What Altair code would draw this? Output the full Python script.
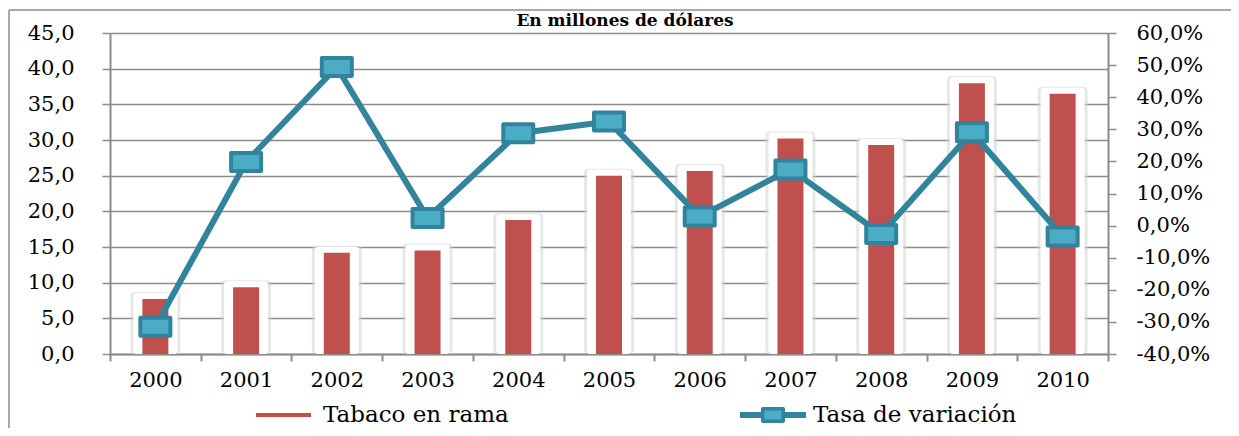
import altair as alt
import pandas as pd

years = ["2000", "2001", "2002", "2003", "2004", "2005", "2006", "2007", "2008", "2009", "2010"]
tabaco = [7.7, 9.35, 14.2, 14.5, 18.8, 25.0, 25.65, 30.2, 29.3, 37.95, 36.5]
tasa = [-0.315, 0.198, 0.494, 0.024, 0.288, 0.324, 0.028, 0.175, -0.026, 0.291, -0.034]
series = ["Tabaco en rama", "Tasa de variación"]
title_text = "En millones de dólares"
left_ticks = [0, 5, 10, 15, 20, 25, 30, 35, 40, 45]
right_ticks = [-0.4, -0.3, -0.2, -0.1, 0.0, 0.1, 0.2, 0.3, 0.4, 0.5, 0.6]

df = pd.DataFrame({"year": years, "tabaco": tabaco, "tasa": tasa})

FONT = "DejaVu Serif"
GRID = "#8c8c8c"
RED = "#C0504D"
TEAL = "#31849B"
LIGHT = "#4BACC6"
W, H = 998, 321

x_enc = alt.X(
    "year:N",
    sort=years,
    scale=alt.Scale(paddingInner=0, paddingOuter=0),
    axis=alt.Axis(
        title=None, grid=False, tickBand="extent", labelAngle=0,
        labelFont=FONT, labelFontSize=21, labelColor="black", labelPadding=8,
        domainColor=GRID, domainWidth=2, tickColor=GRID, tickWidth=2, tickSize=7,
    ),
)

left_axis = alt.Axis(
    title=None, values=left_ticks,
    labelExpr="replace(format(datum.value, '.1f'), '.', ',')",
    labelFont=FONT, labelFontSize=21, labelColor="black", labelPadding=28,
    grid=True, gridColor=GRID, gridWidth=1.5,
    domainColor=GRID, domainWidth=2, tickColor=GRID, tickWidth=1.5, tickSize=8,
)
y_left = alt.Y("tabaco:Q", scale=alt.Scale(domain=[0, 45], nice=False, zero=True), axis=left_axis)

right_axis = alt.Axis(
    title=None, orient="right", values=right_ticks,
    labelExpr="replace(replace(format(datum.value, '.1%'), '.', ','), '\u2212', '-')",
    labelFont=FONT, labelFontSize=21, labelColor="black", labelPadding=20,
    grid=False, domainColor=GRID, domainWidth=2, tickColor=GRID, tickWidth=1.5, tickSize=8,
)
y_right = alt.Y("tasa:Q", scale=alt.Scale(domain=[-0.4, 0.6], nice=False, zero=False), axis=right_axis)

base = alt.Chart(df)

shadow = base.mark_bar(width=50, color="#d4d4d4", opacity=0.55, yOffset=-7, cornerRadius=4).encode(
    x=x_enc, y=y_left, y2=alt.datum(0)
)
glow = base.mark_bar(width=44, color="white", yOffset=-6, cornerRadius=3).encode(
    x=x_enc, y=y_left, y2=alt.datum(0)
)
bars = base.mark_bar(width=26, color=RED).encode(x=x_enc, y=y_left, y2=alt.datum(0))
bar_group = alt.layer(shadow, glow, bars)

RECT = "M-1,-0.6H1V0.6H-1Z"
line = base.mark_line(color=TEAL, strokeWidth=6, strokeJoin="round").encode(x=x_enc, y=y_right)
pts = base.mark_point(
    shape=RECT, size=900, filled=True, fill=LIGHT, stroke=TEAL, strokeWidth=4,
    strokeJoin="round", opacity=1,
).encode(x=x_enc, y=y_right)
line_group = alt.layer(line, pts)

# decorations: title, frame, legend
title_df = pd.DataFrame({"t": [title_text]})
title = alt.Chart(title_df).mark_text(
    font=FONT, fontSize=17, fontWeight="bold", color="black", align="center", baseline="alphabetic"
).encode(text="t:N", x=alt.value(515), y=alt.value(-7))

frame_top = alt.Chart(title_df).mark_rule(color=GRID, strokeWidth=1.5).encode(
    x=alt.value(-101), x2=alt.value(1140), y=alt.value(-23)
)
frame_left = alt.Chart(title_df).mark_rule(color=GRID, strokeWidth=1.5).encode(
    x=alt.value(-101), y=alt.value(-23), y2=alt.value(420)
)

leg1_df = pd.DataFrame({"s": [series[0]]})
leg2_df = pd.DataFrame({"s": [series[1]]})
leg1_line = alt.Chart(leg1_df).mark_rule(color=RED, strokeWidth=4).encode(
    x=alt.value(146), x2=alt.value(201), y=alt.value(382)
)
leg1_text = alt.Chart(leg1_df).mark_text(
    font=FONT, fontSize=23, color="black", align="left", baseline="middle"
).encode(text="s:N", x=alt.value(213), y=alt.value(382))
leg2_line = alt.Chart(leg2_df).mark_rule(color=TEAL, strokeWidth=6).encode(
    x=alt.value(630), x2=alt.value(696), y=alt.value(382)
)
leg2_pt = alt.Chart(leg2_df).mark_point(
    shape=RECT, size=420, filled=True, fill=LIGHT, stroke=TEAL, strokeWidth=3.5,
    strokeJoin="round", opacity=1,
).encode(x=alt.value(663), y=alt.value(382))
leg2_text = alt.Chart(leg2_df).mark_text(
    font=FONT, fontSize=23, color="black", align="left", baseline="middle"
).encode(text="s:N", x=alt.value(703), y=alt.value(382))

chart = alt.layer(
    bar_group, line_group, title, frame_top, frame_left,
    leg1_line, leg1_text, leg2_line, leg2_pt, leg2_text,
).resolve_scale(y="independent").properties(
    width=W, height=H,
    autosize=alt.AutoSizeParams(type="none"),
    padding={"left": 102, "top": 25, "right": 123, "bottom": 74},
).configure_view(stroke=None).configure(background="white")

chart.save("out.html", embed_options={"renderer": "svg", "actions": False})
